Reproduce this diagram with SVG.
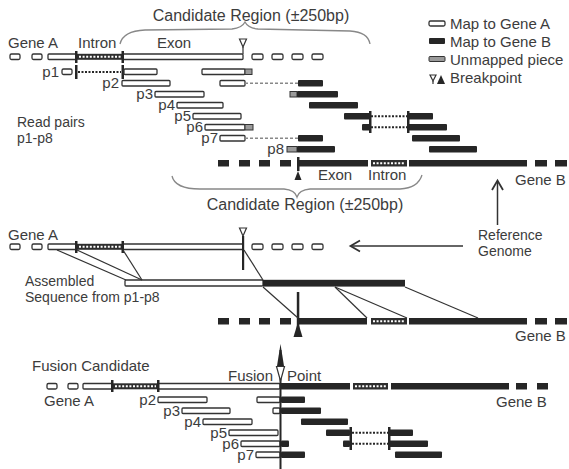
<svg xmlns="http://www.w3.org/2000/svg" width="569" height="469" viewBox="0 0 569 469">
<style>
text{font-family:"Liberation Sans",Arial,Helvetica,sans-serif;font-size:15px;fill:#3c3c3c}
.big{font-size:16px}
.two{font-size:14px}
.w{fill:#fff;stroke:#333;stroke-width:1.3}
.k{fill:#262626}
.g{fill:#9a9a9a;stroke:#333;stroke-width:1}
.in{fill:#2e2e2e}
.wd{stroke:#fff;stroke-width:2;stroke-dasharray:2 1.6;fill:none}
.dot{stroke:#262626;stroke-width:2;stroke-dasharray:2 1.5;fill:none}
.dash{stroke:#888;stroke-width:1.5;stroke-dasharray:3 2;fill:none}
.ln{stroke:#333;stroke-width:1.2;fill:none}
.brace{stroke:#888;stroke-width:1.3;fill:none}
.open{fill:#fff;stroke:#333;stroke-width:1.2}
</style>
<rect width="569" height="469" fill="#fff"/>

<g id="legend">
<rect class="w" x="429" y="21" width="16" height="5" rx="1.5"/>
<text x="450" y="29">Map to Gene A</text>
<rect class="k" x="429" y="38" width="16" height="6" rx="1"/>
<text x="450" y="47">Map to Gene B</text>
<rect class="g" x="429" y="56.5" width="16" height="5" rx="1"/>
<text x="450" y="65">Unmapped piece</text>
<polygon class="open" points="430,75 436,75 433,81"/>
<line class="ln" x1="433" y1="81" x2="433" y2="84"/>
<polygon class="k" points="437,84 445,84 441,75"/>
<text x="450" y="83">Breakpoint</text>
</g>

<g id="candidate-top">
<text class="big" x="251" y="21" text-anchor="middle">Candidate Region (±250bp)</text>
<path class="brace" d="M120,44 Q123,31 145,30 L232,29 Q242,28 245,22 Q248,28 258,29 L350,31 Q368,32 370,44"/>
</g>

<g id="gene-a-top">
<text x="8" y="48">Gene A</text>
<text x="78" y="48">Intron</text>
<text x="157" y="48">Exon</text>
<rect class="w" x="10" y="54" width="10" height="5.5" rx="1.5"/>
<rect class="w" x="32" y="54" width="10" height="5.5" rx="1.5"/>
<rect class="w" x="48" y="54" width="28" height="5.5" rx="1"/>
<rect class="in" x="77" y="53.8" width="45" height="6"/>
<line class="wd" x1="79" y1="56.8" x2="121" y2="56.8"/>
<rect class="w" x="123" y="54" width="120" height="5.5" rx="1"/>
<rect class="k" x="75" y="51" width="2.5" height="12"/>
<rect class="k" x="121.5" y="51" width="2.5" height="12"/>
<rect class="w" x="252" y="54" width="11" height="5.5" rx="1.5"/>
<rect class="w" x="272" y="54" width="11" height="5.5" rx="1.5"/>
<rect class="w" x="292" y="54" width="11" height="5.5" rx="1.5"/>
<rect class="w" x="312" y="54" width="11" height="5.5" rx="1.5"/>
<polygon class="open" points="239.5,39 246.5,39 243,47"/>
<line class="ln" x1="243" y1="47" x2="243" y2="54"/>
</g>

<g id="reads-top">
<text class="two" x="17" y="127">Read pairs</text>
<text class="two" x="17" y="143">p1-p8</text>
<!-- p1 -->
<text x="59" y="77" text-anchor="end">p1</text>
<rect class="w" x="62" y="69" width="10" height="5.5" rx="1.5"/>
<line class="dot" x1="78" y1="72" x2="121" y2="72"/>
<rect class="k" x="75" y="65" width="2.5" height="14"/>
<rect class="k" x="121.5" y="65" width="2.5" height="14"/>
<rect class="w" x="124" y="69" width="33" height="5.5" rx="1"/>
<rect class="w" x="202" y="69" width="43" height="5.5" rx="1"/>
<rect class="g" x="245" y="69" width="7" height="5.5"/>
<!-- p2 -->
<text x="119" y="88" text-anchor="end">p2</text>
<rect class="w" x="122" y="80.5" width="48" height="5.5" rx="1"/>
<rect class="w" x="220" y="80.5" width="25" height="5.5" rx="1"/>
<line class="dash" x1="245" y1="83.3" x2="298" y2="83.3"/>
<rect class="k" x="298" y="80" width="25" height="6.5" rx="1"/>
<!-- p3 -->
<text x="153" y="99" text-anchor="end">p3</text>
<rect class="w" x="155" y="91.5" width="49" height="5.5" rx="1"/>
<rect class="g" x="290" y="91.5" width="7" height="5.5"/>
<rect class="k" x="297" y="91" width="41" height="6.5" rx="1"/>
<!-- p4 -->
<text x="175" y="110" text-anchor="end">p4</text>
<rect class="w" x="177" y="102.5" width="46" height="5.5" rx="1"/>
<rect class="k" x="309" y="102" width="49" height="6.5" rx="1"/>
<!-- p5 -->
<text x="191" y="121" text-anchor="end">p5</text>
<rect class="w" x="193" y="113.5" width="48" height="5.5" rx="1"/>
<rect class="k" x="344" y="113" width="26" height="6.5" rx="1"/>
<line class="dot" x1="371" y1="116.3" x2="407" y2="116.3"/>
<rect class="k" x="408" y="113" width="25" height="6.5" rx="1"/>
<!-- p6 -->
<text x="203" y="132" text-anchor="end">p6</text>
<rect class="w" x="205" y="124.5" width="40" height="5.5" rx="1"/>
<rect class="g" x="245" y="124.5" width="8" height="5.5"/>
<rect class="k" x="362" y="124" width="8" height="6.5" rx="1"/>
<line class="dot" x1="371" y1="127.3" x2="407" y2="127.3"/>
<rect class="k" x="408" y="124" width="39" height="6.5" rx="1"/>
<rect class="k" x="369" y="111" width="2.5" height="22"/>
<rect class="k" x="407" y="111" width="2.5" height="22"/>
<!-- p7 -->
<text x="218" y="143" text-anchor="end">p7</text>
<rect class="w" x="220" y="135.5" width="25" height="5.5" rx="1"/>
<line class="dash" x1="245" y1="138.3" x2="298" y2="138.3"/>
<rect class="k" x="298" y="135" width="25" height="6.5" rx="1"/>
<rect class="k" x="412" y="135" width="48" height="6.5" rx="1"/>
<!-- p8 -->
<text x="284" y="154" text-anchor="end">p8</text>
<rect class="g" x="287" y="146.5" width="10" height="5.5"/>
<rect class="k" x="297" y="146" width="38" height="6.5" rx="1"/>
<rect class="k" x="429" y="146" width="48" height="6.5" rx="1"/>
</g>

<g id="gene-b-top">
<rect class="k" x="218" y="160" width="11" height="6.5"/>
<rect class="k" x="239" y="160" width="11" height="6.5"/>
<rect class="k" x="259" y="160" width="11" height="6.5"/>
<rect class="k" x="280" y="160" width="11" height="6.5"/>
<rect class="k" x="298" y="160" width="70" height="6.5"/>
<rect class="in" x="371" y="160" width="36" height="6.5"/>
<line class="wd" x1="373" y1="163.3" x2="405" y2="163.3"/>
<rect class="k" x="409" y="160" width="118" height="6.5"/>
<rect class="k" x="535" y="160" width="12" height="6.5"/>
<rect class="k" x="555" y="160" width="12" height="6.5"/>
<rect class="k" x="297" y="157" width="2.5" height="14"/>
<polygon class="k" points="294.5,180 301.5,180 298,171"/>
<text x="318" y="180">Exon</text>
<text x="368" y="180">Intron</text>
<text x="515" y="185">Gene B</text>
</g>

<g id="candidate-bottom">
<path class="brace" d="M172,176 Q175,189 200,189 L284,189 Q295,190 297,197 Q299,190 310,189 L400,189 Q418,188 422,175"/>
<text class="big" x="305" y="210" text-anchor="middle">Candidate Region (±250bp)</text>
</g>

<g id="reference-genome">
<text class="two" x="478" y="240">Reference</text>
<text class="two" x="478" y="256">Genome</text>
</g>

<g id="gene-a-mid">
<text x="8" y="240">Gene A</text>
<rect class="w" x="10" y="244" width="10" height="5.5" rx="1.5"/>
<rect class="w" x="32" y="244" width="10" height="5.5" rx="1.5"/>
<rect class="w" x="48" y="244" width="28" height="5.5" rx="1"/>
<rect class="in" x="77" y="243.8" width="45" height="6"/>
<line class="wd" x1="79" y1="246.8" x2="121" y2="246.8"/>
<rect class="w" x="123" y="244" width="120" height="5.5" rx="1"/>
<rect class="k" x="75" y="241" width="2.5" height="12"/>
<rect class="k" x="121.5" y="241" width="2.5" height="12"/>
<rect class="w" x="252" y="244" width="11" height="5.5" rx="1.5"/>
<rect class="w" x="272" y="244" width="11" height="5.5" rx="1.5"/>
<rect class="w" x="292" y="244" width="11" height="5.5" rx="1.5"/>
<rect class="w" x="312" y="244" width="11" height="5.5" rx="1.5"/>
<polygon class="open" points="239.5,228 246.5,228 243,236"/>
<rect class="k" x="242" y="236" width="2.2" height="34"/>
</g>

<g id="assembled">
<text class="two" x="25" y="286">Assembled</text>
<text class="two" x="25" y="302">Sequence from p1-p8</text>
<rect class="w" x="125" y="280" width="138" height="6" rx="1"/>
<rect class="k" x="263" y="279.8" width="142" height="6.8"/>
</g>

<g id="gene-b-mid">
<rect class="k" x="218" y="318" width="11" height="6.5"/>
<rect class="k" x="239" y="318" width="11" height="6.5"/>
<rect class="k" x="259" y="318" width="11" height="6.5"/>
<rect class="k" x="280" y="318" width="11" height="6.5"/>
<rect class="k" x="298" y="318" width="69" height="6.5"/>
<rect class="in" x="371" y="318" width="36" height="6.5"/>
<line class="wd" x1="373" y1="321.3" x2="405" y2="321.3"/>
<rect class="k" x="409" y="318" width="118" height="6.5"/>
<rect class="k" x="535" y="318" width="12" height="6.5"/>
<rect class="k" x="555" y="318" width="12" height="6.5"/>
<rect class="k" x="296.8" y="292" width="2.5" height="40"/>
<polygon class="k" points="293.5,337 302.5,337 298,322"/>
<text x="515" y="341">Gene B</text>
</g>

<g id="fusion">
<text x="32" y="371">Fusion Candidate</text>
<text x="228" y="381">Fusion</text>
<text x="287" y="381">Point</text>
<rect class="w" x="47" y="383.5" width="10" height="5.5" rx="1.5"/>
<rect class="w" x="68" y="383.5" width="10" height="5.5" rx="1.5"/>
<rect class="w" x="83" y="383.5" width="29" height="5.5" rx="1"/>
<rect class="in" x="113" y="383.3" width="44" height="6"/>
<line class="wd" x1="115" y1="386.3" x2="156" y2="386.3"/>
<rect class="w" x="158" y="383.5" width="122" height="5.5" rx="1"/>
<rect class="k" x="111" y="380" width="2.5" height="12"/>
<rect class="k" x="157" y="380" width="2.5" height="12"/>
<rect class="k" x="281" y="383" width="69" height="6.5"/>
<rect class="in" x="353" y="383" width="35" height="6.5"/>
<line class="wd" x1="355" y1="386.3" x2="386" y2="386.3"/>
<rect class="k" x="391" y="383" width="118" height="6.5"/>
<rect class="k" x="516" y="383" width="11" height="6.5"/>
<rect class="k" x="537" y="383" width="11" height="6.5"/>
<text x="44" y="406">Gene A</text>
<text x="496" y="407">Gene B</text>
</g>

<g id="reads-bottom">
<text x="156" y="405" text-anchor="end">p2</text>
<rect class="w" x="158" y="397" width="49" height="5.5" rx="1"/>
<rect class="w" x="257" y="397" width="23" height="5.5" rx="1"/>
<rect class="k" x="281" y="396.5" width="24" height="6.5" rx="1"/>
<text x="180" y="416" text-anchor="end">p3</text>
<rect class="w" x="182" y="408" width="48" height="5.5" rx="1"/>
<rect class="w" x="273" y="408" width="7" height="5.5" rx="1"/>
<rect class="k" x="281" y="407.5" width="40" height="6.5" rx="1"/>
<text x="201" y="427" text-anchor="end">p4</text>
<rect class="w" x="203" y="419" width="49" height="5.5" rx="1"/>
<rect class="k" x="301" y="418.5" width="47" height="6.5" rx="1"/>
<text x="227" y="438" text-anchor="end">p5</text>
<rect class="w" x="229" y="430" width="49" height="5.5" rx="1"/>
<rect class="k" x="326" y="429.5" width="24" height="6.5" rx="1"/>
<line class="dot" x1="352" y1="432.8" x2="388" y2="432.8"/>
<rect class="k" x="389" y="429.5" width="24" height="6.5" rx="1"/>
<text x="239" y="449" text-anchor="end">p6</text>
<rect class="w" x="241" y="441" width="39" height="5.5" rx="1"/>
<rect class="k" x="281" y="440.5" width="8" height="6.5" rx="1"/>
<rect class="k" x="343" y="440.5" width="7" height="6.5" rx="1"/>
<line class="dot" x1="352" y1="443.8" x2="388" y2="443.8"/>
<rect class="k" x="389" y="440.5" width="39" height="6.5" rx="1"/>
<rect class="k" x="349.5" y="427" width="2.5" height="23"/>
<rect class="k" x="388" y="427" width="2.5" height="23"/>
<text x="254" y="460" text-anchor="end">p7</text>
<rect class="w" x="256" y="452" width="24" height="5.5" rx="1"/>
<rect class="k" x="281" y="451.5" width="24" height="6.5" rx="1"/>
<rect class="k" x="395" y="451.5" width="47" height="6.5" rx="1"/>
</g>

<g id="connectors">
<line class="ln" x1="57" y1="250" x2="126" y2="280"/>
<line class="ln" x1="77" y1="250" x2="142" y2="280"/>
<line class="ln" x1="123" y1="250" x2="142" y2="280"/>
<line class="ln" x1="244" y1="250" x2="263" y2="280"/>
<line class="ln" x1="263" y1="287" x2="298" y2="318"/>
<line class="ln" x1="335" y1="287" x2="367" y2="318"/>
<line class="ln" x1="335" y1="287" x2="407" y2="318"/>
<line class="ln" x1="405" y1="287" x2="478" y2="318"/>
<line x1="463" y1="246" x2="351" y2="246" stroke="#333" stroke-width="1.5"/>
<polyline points="360,240.5 350.5,246 360,251.5" fill="none" stroke="#333" stroke-width="1.8"/>
<line x1="497.5" y1="225" x2="497.5" y2="181" stroke="#333" stroke-width="1.5"/>
<polyline points="492,190 497.5,180.5 503,190" fill="none" stroke="#333" stroke-width="1.8"/>
<rect class="k" x="279.5" y="350" width="2" height="119"/>
<polygon class="k" points="280.5,344 277,366 284,366"/>
<polygon class="open" points="276.5,366.5 284.5,366.5 280.5,381"/>
</g>
</svg>
